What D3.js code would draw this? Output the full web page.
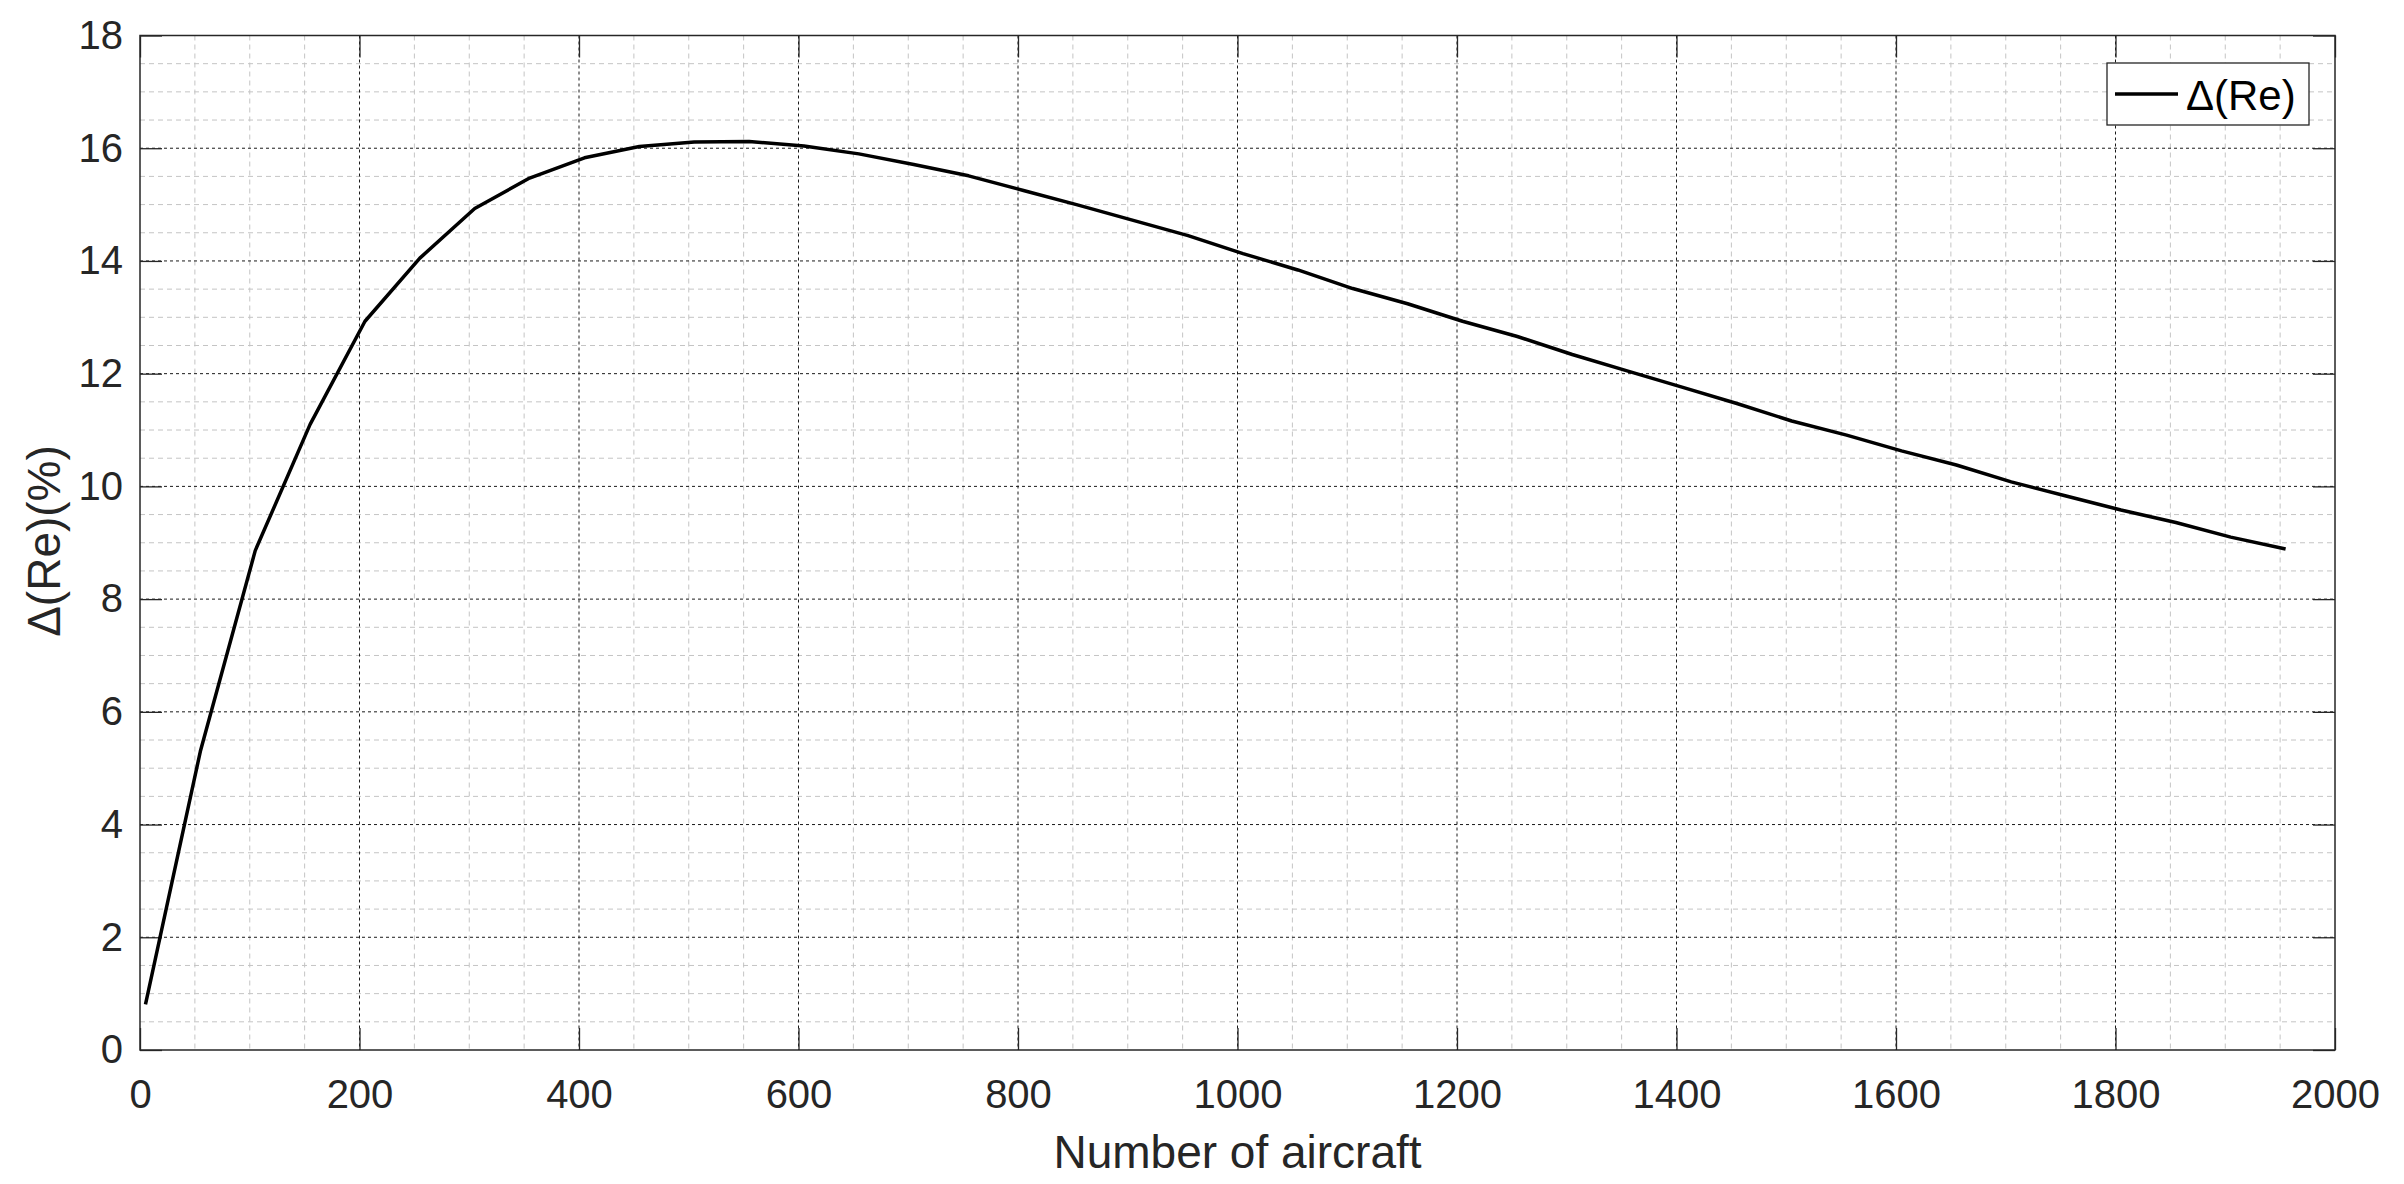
<!DOCTYPE html>
<html>
<head>
<meta charset="utf-8">
<script src="https://cdn.jsdelivr.net/npm/d3@7"></script>
<style>
  html, body { margin: 0; padding: 0; background: #fff; }
  svg { display: block; }
  text { font-family: "Liberation Sans", Arial, Helvetica, sans-serif; }
</style>
</head>
<body>
<svg id="chart" width="2404" height="1184"></svg>
<script>
// ---- data ----
const aircraft = [5, 55, 105, 155, 205, 255, 305, 355, 405, 455, 505, 555, 605, 655, 705, 755, 805, 855, 905, 955,
  1005, 1055, 1105, 1155, 1205, 1255, 1305, 1355, 1405, 1455, 1505, 1555, 1605, 1655, 1705, 1755, 1805, 1855, 1905, 1955];
const deltaRe = [0.81, 5.30, 8.86, 11.10, 12.93, 14.05, 14.93, 15.47, 15.83, 16.03, 16.11, 16.12, 16.04, 15.90, 15.71, 15.51, 15.25, 14.99, 14.72, 14.45,
  14.13, 13.84, 13.51, 13.24, 12.93, 12.66, 12.34, 12.05, 11.76, 11.47, 11.16, 10.91, 10.63, 10.38, 10.08, 9.83, 9.58, 9.36, 9.10, 8.89];
const xTicks = [0, 200, 400, 600, 800, 1000, 1200, 1400, 1600, 1800, 2000];
const yTicks = [0, 2, 4, 6, 8, 10, 12, 14, 16, 18];
const xMinorTicks = d3.range(0, 2001, 50).filter(v => v % 200 !== 0);
const yMinorTicks = d3.range(0, 18.01, 0.5).filter(v => v % 2 !== 0);
const seriesName = "\u0394(Re)";
const xTitle = "Number of aircraft";
const yTitle = "\u0394(Re)(%)";

// ---- layout ----
const L = 140, R = 2335, T = 35.5, B = 1050;
const svg = d3.select("#chart");
const x = d3.scaleLinear().domain([0, 2000]).range([L, R]);
const y = d3.scaleLinear().domain([0, 18]).range([B, T]);
const axisColor = "#262626";

const g = svg.append("g");

// minor grid
g.append("g").selectAll("line").data(xMinorTicks).join("line")
  .attr("x1", d => x(d)).attr("x2", d => x(d)).attr("y1", T).attr("y2", B)
  .attr("stroke", "#c4c4c4").attr("stroke-width", 1).attr("stroke-dasharray", "5,4");
g.append("g").selectAll("line").data(yMinorTicks).join("line")
  .attr("x1", L).attr("x2", R).attr("y1", d => y(d)).attr("y2", d => y(d))
  .attr("stroke", "#c4c4c4").attr("stroke-width", 1).attr("stroke-dasharray", "5,4");

// major grid
g.append("g").selectAll("line").data(xTicks.slice(1, -1)).join("line")
  .attr("x1", d => x(d)).attr("x2", d => x(d)).attr("y1", T).attr("y2", B)
  .attr("stroke", "#1a1a1a").attr("stroke-width", 1).attr("stroke-dasharray", "3,3");
g.append("g").selectAll("line").data(yTicks.slice(1, -1)).join("line")
  .attr("x1", L).attr("x2", R).attr("y1", d => y(d)).attr("y2", d => y(d))
  .attr("stroke", "#1a1a1a").attr("stroke-width", 1).attr("stroke-dasharray", "3,3");

// axes (ticks inward on all four sides)
const tickLen = 22;
function styleAxis(sel) {
  sel.select(".domain").remove();
  sel.selectAll(".tick line").attr("stroke", axisColor).attr("stroke-width", 1.3);
  sel.selectAll(".tick text").attr("fill", axisColor).attr("font-size", 40);
}
const xAxis = g.append("g").attr("transform", `translate(0,${B})`)
  .call(d3.axisBottom(x).tickValues(xTicks).tickFormat(d3.format("d")).tickSizeInner(-tickLen).tickSizeOuter(0).tickPadding(30));
styleAxis(xAxis);
xAxis.selectAll(".tick text").attr("dy", "0.71em");
const xAxisTop = g.append("g").attr("transform", `translate(0,${T})`)
  .call(d3.axisTop(x).tickValues(xTicks).tickFormat("").tickSizeInner(-tickLen).tickSizeOuter(0));
styleAxis(xAxisTop);
const yAxis = g.append("g").attr("transform", `translate(${L},0)`)
  .call(d3.axisLeft(y).tickValues(yTicks).tickFormat(d3.format("d")).tickSizeInner(-tickLen).tickSizeOuter(0).tickPadding(17));
styleAxis(yAxis);
const yAxisRight = g.append("g").attr("transform", `translate(${R},0)`)
  .call(d3.axisRight(y).tickValues(yTicks).tickFormat("").tickSizeInner(-tickLen).tickSizeOuter(0));
styleAxis(yAxisRight);

// box
g.append("rect").attr("x", L).attr("y", T).attr("width", R - L).attr("height", B - T)
  .attr("fill", "none").attr("stroke", axisColor).attr("stroke-width", 1.5);

// series line
const line = d3.line().x((d, i) => x(aircraft[i])).y(d => y(d));
g.append("path").datum(deltaRe).attr("d", line)
  .attr("fill", "none").attr("stroke", "#000").attr("stroke-width", 3.5).attr("stroke-linejoin", "round");

// axis titles
g.append("text").attr("x", (L + R) / 2).attr("y", 1168).attr("text-anchor", "middle")
  .attr("font-size", 46).attr("fill", axisColor).text(xTitle);
g.append("text").attr("transform", `translate(60,541) rotate(-90)`).attr("text-anchor", "middle")
  .attr("font-size", 46).attr("fill", axisColor).text(yTitle);

// legend
const lg = g.append("g");
lg.append("rect").attr("x", 2107).attr("y", 63).attr("width", 202).attr("height", 62)
  .attr("fill", "#fff").attr("stroke", axisColor).attr("stroke-width", 1.3);
lg.append("line").attr("x1", 2115).attr("x2", 2178).attr("y1", 94).attr("y2", 94)
  .attr("stroke", "#000").attr("stroke-width", 3.5);
lg.append("text").attr("x", 2186).attr("y", 110).attr("font-size", 42).attr("fill", "#000").text(seriesName);
</script>
</body>
</html>
